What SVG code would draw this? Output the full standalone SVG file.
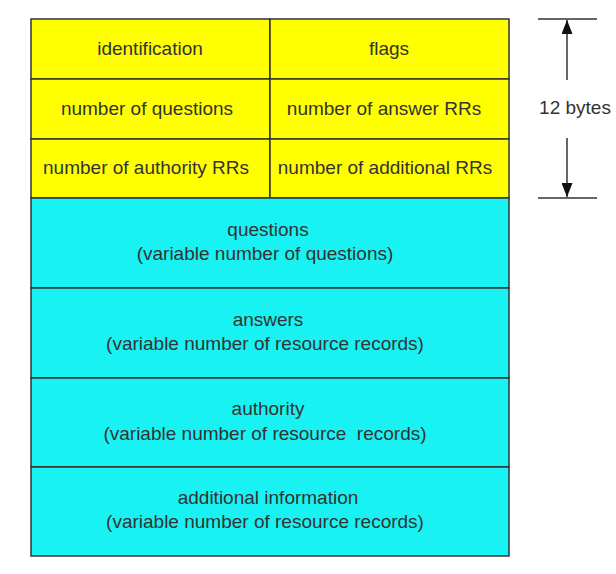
<svg xmlns="http://www.w3.org/2000/svg" width="616" height="574" viewBox="0 0 616 574">
<style>
.h{fill:#FFFF00;stroke:#333;stroke-width:1.5}
.b{fill:#18F2F2;stroke:#333;stroke-width:1.5}
text{font-family:"Liberation Sans",Arial,sans-serif;font-size:19px;fill:#333;text-anchor:middle;white-space:pre}
.ln{stroke:#333;stroke-width:1.5;fill:none}
</style>
<defs>
<marker id="ah" viewBox="0 0 10 10" refX="10" refY="5" markerWidth="14" markerHeight="11" orient="auto" markerUnits="userSpaceOnUse" preserveAspectRatio="none">
<path d="M0,0 L10,5 L0,10 z" fill="#111"/>
</marker>
</defs>
<rect width="616" height="574" fill="#fff"/>
<g id="identification"><rect class="h" x="31" y="19" width="239" height="60"/><text x="150" y="55">identification</text></g>
<g id="flags"><rect class="h" x="270" y="19" width="239" height="60"/><text x="389" y="55">flags</text></g>
<g id="num-questions"><rect class="h" x="31" y="79" width="239" height="60"/><text x="147" y="115">number of questions</text></g>
<g id="num-answers"><rect class="h" x="270" y="79" width="239" height="60"/><text x="384" y="115">number of answer RRs</text></g>
<g id="num-authority"><rect class="h" x="31" y="139" width="239" height="59"/><text x="146" y="174">number of authority RRs</text></g>
<g id="num-additional"><rect class="h" x="270" y="139" width="239" height="59"/><text x="385" y="174">number of additional RRs</text></g>
<g id="questions"><rect class="b" x="31" y="198" width="478" height="90"/><text x="268" y="236">questions</text><text x="265" y="260">(variable number of questions)</text></g>
<g id="answers"><rect class="b" x="31" y="288" width="478" height="90"/><text x="268" y="326">answers</text><text x="265" y="350">(variable number of resource records)</text></g>
<g id="authority"><rect class="b" x="31" y="378" width="478" height="89"/><text x="268" y="415">authority</text><text x="265" y="440">(variable number of resource  records)</text></g>
<g id="additional"><rect class="b" x="31" y="467" width="478" height="89"/><text x="268" y="504">additional information</text><text x="265" y="528">(variable number of resource records)</text></g>
<g id="connectors">
<line class="ln" x1="538" y1="19" x2="597" y2="19"/>
<line class="ln" x1="538" y1="198" x2="597" y2="198"/>
<line class="ln" x1="567" y1="80" x2="567" y2="20" marker-end="url(#ah)"/>
<line class="ln" x1="567" y1="138" x2="567" y2="197" marker-end="url(#ah)"/>
</g>
<g id="label"><text x="575" y="114">12 bytes</text></g>
</svg>
